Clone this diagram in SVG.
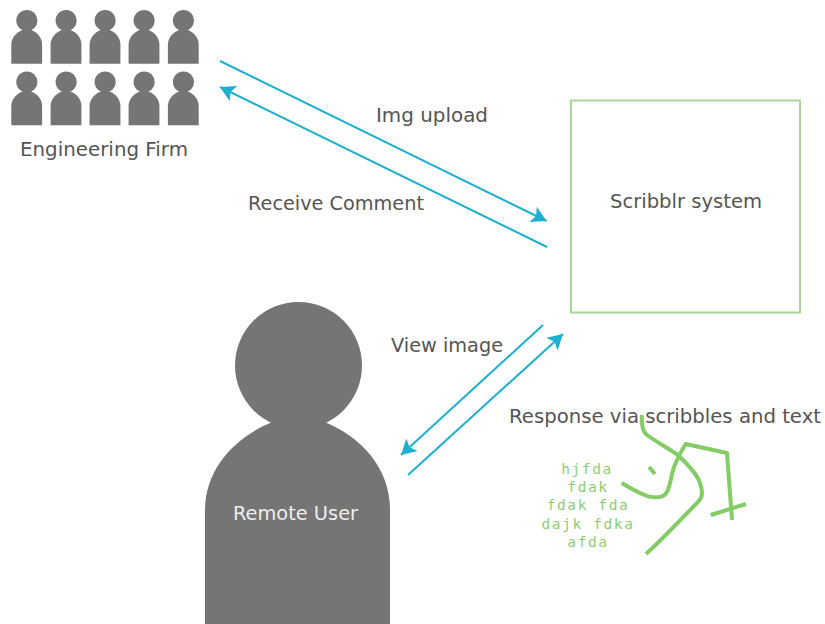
<svg xmlns="http://www.w3.org/2000/svg" width="825" height="624" viewBox="0 0 825 624">
<style>
.p{fill:#757575}
.t{font-family:"DejaVu Sans",sans-serif;font-size:19px;fill:#555}
.m{font-family:"DejaVu Sans Mono",monospace;font-size:14.5px;letter-spacing:1.6px;fill:#8ccf70;text-anchor:middle}
.c{stroke:#1cb0d0;stroke-width:2;fill:none}
.s{stroke:#84cc66;stroke-width:4;fill:none;stroke-linejoin:round;stroke-linecap:butt}
</style>
<defs>
<marker id="a" markerUnits="userSpaceOnUse" markerWidth="17" markerHeight="18" refX="15" refY="8.500" orient="auto"><path d="M0 0L15 8.500L0 17L3.500 8.500Z" fill="#1cb0d0"/></marker>
<g id="person"><circle cx="1" cy="63.500" r="63.500"/><path d="M-92.500 322V208C-92.500 165 -60 134 -25.800 120.300H27.500C62 134 92.500 165 92.500 208V322Z"/></g>
</defs>
<rect width="825" height="624" fill="#fff"/>
<g id="engineering-firm" class="p">
<use href="#person" transform="translate(26.700 10) scale(.1667)"/>
<use href="#person" transform="translate(66 10) scale(.1667)"/>
<use href="#person" transform="translate(105 10) scale(.1667)"/>
<use href="#person" transform="translate(144 10) scale(.1667)"/>
<use href="#person" transform="translate(183.300 10) scale(.1667)"/>
<use href="#person" transform="translate(26.700 71.500) scale(.1667)"/>
<use href="#person" transform="translate(66 71.500) scale(.1667)"/>
<use href="#person" transform="translate(105 71.500) scale(.1667)"/>
<use href="#person" transform="translate(144 71.500) scale(.1667)"/>
<use href="#person" transform="translate(183.300 71.500) scale(.1667)"/>
<text class="t" x="20" y="156" textLength="168" lengthAdjust="spacingAndGlyphs">Engineering Firm</text>
</g>
<g id="scribblr-system">
<rect x="571" y="100.500" width="229" height="212" fill="none" stroke="#a9d795" stroke-width="2"/>
<text class="t" x="610" y="208" textLength="152" lengthAdjust="spacingAndGlyphs">Scribblr system</text>
</g>
<g id="remote-user">
<use href="#person" class="p" transform="translate(297.500 302)"/>
<text class="t" x="233" y="520" textLength="125" lengthAdjust="spacingAndGlyphs" style="fill:#eee">Remote User</text>
</g>
<g id="connectors">
<line class="c" x1="220" y1="61" x2="546.500" y2="221" marker-end="url(#a)"/>
<line class="c" x1="547" y1="247" x2="220" y2="87" marker-end="url(#a)"/>
<line class="c" x1="543" y1="325" x2="401" y2="455" marker-end="url(#a)"/>
<line class="c" x1="408" y1="475" x2="563" y2="334" marker-end="url(#a)"/>
</g>
<g id="labels">
<text class="t" x="376" y="122" textLength="112" lengthAdjust="spacingAndGlyphs">Img upload</text>
<text class="t" x="248" y="210" textLength="176" lengthAdjust="spacingAndGlyphs">Receive Comment</text>
<text class="t" x="391" y="352" textLength="112" lengthAdjust="spacingAndGlyphs">View image</text>
<text class="t" x="509" y="423" textLength="312" lengthAdjust="spacingAndGlyphs">Response via scribbles and text</text>
</g>
<g id="scribbles">
<path class="s" d="M641.700 415C642 425 642 431 647 435C655 441 668 448 678 455C688 465 697 474 700 483C703 492 703 498 697 503C680 520 664 538 646 554"/>
<path class="s" d="M621.700 483C632 489 643 496 652 497C660 498 665 497 668 490C671 482 671 476 674 467C677 459 681 451 685.700 444L727 453L732 520"/>
<path class="s" d="M710.700 515L746 504"/>
<path class="s" d="M649 467L655 474"/>
<text class="m" x="587" y="474">hjfda</text>
<text class="m" x="588" y="492">fdak</text>
<text class="m" x="588" y="510">fdak fda</text>
<text class="m" x="588" y="529">dajk fdka</text>
<text class="m" x="588" y="547">afda</text>
</g>
</svg>
